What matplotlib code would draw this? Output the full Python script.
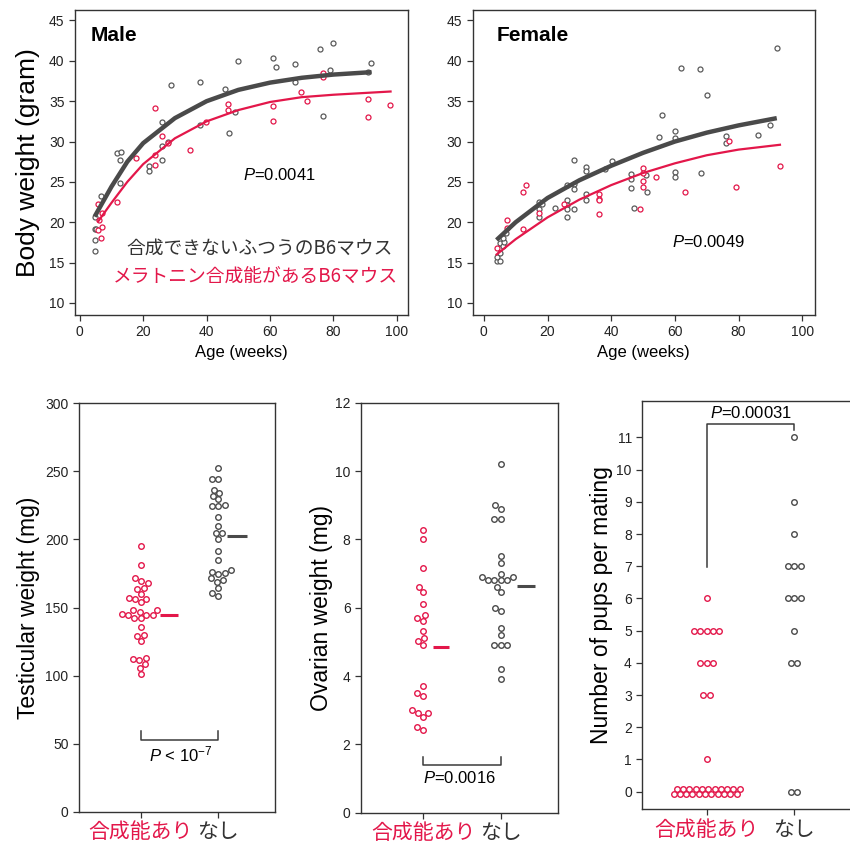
import numpy as np
import matplotlib
matplotlib.use('Agg')
import matplotlib.pyplot as plt

plt.rcParams['font.family'] = ['Liberation Sans', 'Noto Sans CJK JP']
plt.rcParams['mathtext.fontset'] = 'custom'
plt.rcParams['mathtext.rm'] = 'Liberation Sans'
plt.rcParams['mathtext.it'] = 'Liberation Sans:italic'

RED = '#e3174a'
GRAY = '#5a5a5a'
DARK = '#4a4a4a'
FRAME = '#333333'
JP = ['Noto Sans CJK JP']

# ---- body weight, male ----
male_ctrl_age = [4.7, 4.7, 4.7, 4.7, 5.0, 6.8, 11.8, 12.9, 12.8, 12.8, 21.7, 21.7,
                 25.8, 25.8, 25.8, 27.7, 28.9, 37.9, 37.9, 45.8, 47.0, 48.8, 49.9,
                 60.8, 61.9, 67.9, 67.9, 75.9, 76.8, 78.9, 79.8, 90.9, 91.8]
male_ctrl_wt = [20.6, 19.1, 17.8, 16.4, 19.2, 23.3, 28.6, 28.7, 27.7, 24.8, 27.0, 26.3,
                32.4, 29.4, 27.7, 29.9, 37.0, 37.4, 32.0, 36.5, 31.0, 33.7, 40.0,
                40.3, 39.2, 39.6, 37.4, 41.5, 33.2, 38.9, 42.2, 38.6, 39.7]
male_mel_age = [5.8, 6.1, 5.8, 7.0, 7.0, 6.8, 11.9, 17.6, 23.8, 23.8, 23.8, 25.8, 27.8,
                34.9, 39.8, 46.8, 46.8, 60.8, 60.8, 69.7, 71.7, 76.8, 76.8, 90.9,
                90.9, 97.8]
male_mel_wt = [22.2, 20.3, 19.0, 21.1, 19.4, 18.1, 22.5, 28.0, 34.1, 28.3, 27.1, 30.7,
               29.8, 29.0, 32.4, 34.6, 33.9, 34.4, 32.5, 36.1, 35.0, 38.5, 38.0, 35.3,
               33.1, 34.5]
male_ctrl_fit_age = [4.7, 10, 15, 20, 30, 40, 50, 60, 70, 80, 92]
male_ctrl_fit_wt = [20.7, 24.4, 27.5, 29.8, 32.9, 35.0, 36.4, 37.3, 37.9, 38.3, 38.6]
male_mel_fit_age = [5.8, 10, 15, 20, 30, 40, 50, 60, 70, 80, 98]
male_mel_fit_wt = [20.1, 22.4, 25.0, 27.2, 30.4, 32.5, 33.9, 34.9, 35.5, 35.8, 36.2]

# ---- body weight, female ----
female_ctrl_age = [4.2, 4.2, 5.2, 5.2, 5.2, 5.2, 5.9, 6.4, 6.0, 7.1, 17.2, 17.2, 17.2,
                   18.2, 22.2, 26.2, 26.2, 26.2, 26.2, 26.2, 28.3, 28.3, 28.3, 28.3,
                   32.1, 32.1, 32.1, 32.1, 38.1, 40.2, 46.1, 46.1, 46.1, 47.1, 51.0,
                   51.1, 55.1, 56.0, 60.1, 60.1, 60.1, 60.1, 62.0, 68.0, 68.1, 70.1,
                   76.0, 76.0, 86.0, 90.0, 92.0]
female_ctrl_wt = [15.2, 15.7, 15.2, 16.2, 16.8, 17.4, 17.0, 17.6, 18.1, 18.7, 22.5, 21.6,
                  20.6, 22.3, 21.8, 24.6, 22.7, 22.1, 21.6, 20.6, 27.7, 24.7, 24.1,
                  21.6, 26.8, 26.3, 23.5, 22.8, 26.6, 27.6, 26.0, 25.4, 24.2, 21.8,
                  25.8, 23.8, 30.6, 33.3, 31.3, 30.4, 26.2, 25.6, 39.1, 39.0, 26.1,
                  35.8, 30.7, 29.8, 30.8, 32.1, 41.6]
female_mel_age = [4.2, 7.2, 7.2, 12.3, 13.3, 12.3, 17.2, 25.1, 36.1, 36.1, 36.1, 36.1,
                  49.1, 50.1, 50.1, 50.1, 50.1, 54.1, 63.1, 77.1, 79.1, 93.0]
female_mel_wt = [16.8, 20.3, 19.3, 23.7, 24.6, 19.1, 21.1, 22.2, 23.5, 22.9, 22.7, 21.0,
                 21.6, 26.7, 26.1, 25.1, 24.4, 25.6, 23.8, 30.1, 24.4, 27.0]
female_ctrl_fit_age = [4, 10, 20, 30, 40, 50, 60, 70, 80, 92]
female_ctrl_fit_wt = [17.8, 20.0, 23.0, 25.2, 27.0, 28.6, 30.0, 31.1, 32.0, 32.9]
female_mel_fit_age = [4, 10, 20, 30, 40, 50, 60, 70, 80, 93]
female_mel_fit_wt = [16.0, 17.9, 20.6, 22.8, 24.6, 26.1, 27.3, 28.3, 29.0, 29.6]

# ---- organ weights and litter size ----
group_labels = ['合成能あり', 'なし']
testis_mel = [195.4, 181.5, 171.9, 167.8, 169.2, 163.9, 164.3, 160.2, 156.5, 156.5,
              157.0, 154.1, 145.2, 146.7, 148.2, 148.4, 144.7, 144.3, 144.3, 142.0,
              142.0, 135.7, 129.1, 129.6, 125.4, 111.2, 111.9, 113.2, 108.5, 105.6,
              100.9]
testis_ctrl = [252.5, 244.2, 244.2, 236.6, 234.4, 229.7, 231.9, 224.6, 224.6, 225.3,
               216.3, 209.6, 204.5, 204.5, 200.1, 191.5, 185.2, 177.6, 175.6, 176.3,
               171.4, 174.6, 168.7, 170.0, 164.1, 160.4, 158.5]
testis_means = [144.5, 202.3]
ovary_mel = [8.27, 8.01, 7.17, 6.47, 6.60, 6.11, 5.79, 5.69, 5.61, 5.31, 5.10, 5.02,
             4.91, 3.72, 3.42, 3.50, 3.00, 2.93, 2.93, 2.81, 2.42, 2.50]
ovary_ctrl = [10.2, 9.0, 8.9, 8.6, 8.6, 7.5, 7.3, 7.0, 6.9, 6.9, 6.8, 6.8, 6.8, 6.8,
              6.6, 6.45, 6.0, 5.9, 5.4, 5.2, 4.9, 4.9, 4.9, 4.2, 3.9]
ovary_means = [4.86, 6.65]
pups_mel = [6, 5, 5, 5, 5, 5, 4, 4, 4, 3, 3, 1] + [0] * 22
pups_ctrl = [11, 9, 8, 7, 7, 7, 6, 6, 6, 5, 4, 4, 0, 0]


def style_axes(ax):
    for s in ax.spines.values():
        s.set_color(FRAME)
        s.set_linewidth(1.0)
    ax.tick_params(direction='out', length=4, width=0.9, color=FRAME,
                   labelsize=10, labelcolor='#222222', top=False, right=False)


def swarm_x(ax, x0, values, d):
    # simple beeswarm in pixel space
    pts = ax.transData.transform(np.column_stack([np.full(len(values), x0), values]))
    ys = pts[:, 1]
    xc = pts[0, 0]
    xs = np.zeros(len(values))
    placed = []
    for i in np.argsort(ys):
        y = ys[i]
        cands = [0.0]
        for px, py in placed:
            dy = y - py
            if abs(dy) < d:
                dx = np.sqrt(d * d - dy * dy)
                cands += [px + dx, px - dx]
        for c in sorted(cands, key=lambda c: (abs(c), c)):
            if all((c - px) ** 2 + (y - py) ** 2 >= d * d - 1e-6 for px, py in placed):
                xs[i] = c
                break
        placed.append((xs[i], y))
    inv = ax.transData.inverted()
    return inv.transform(np.column_stack([xc + xs, ys]))[:, 0]


def rows_xy(ax, x0, values, d, max_row=12):
    # identical counts laid out as centred rows, long rows split in two
    out = []
    for v in sorted(set(values)):
        n = values.count(v)
        cx, cy = ax.transData.transform((x0, v))
        if n <= max_row:
            rows = [(n, 0.0, 0.0)]
        else:
            rows = [(n // 2, 0.45 * d, 0.25 * d), (n - n // 2, -0.45 * d, -0.25 * d)]
        for k, dy, sx in rows:
            for j in range(k):
                out.append((cx + sx + (j - (k - 1) / 2) * d, cy + dy))
    return ax.transData.inverted().transform(np.array(out))


def growth_panel(ax, ctrl, mel, ctrl_fit, mel_fit, title, title_x, ptext, pxy):
    ax.plot(ctrl[0], ctrl[1], 'o', ms=3.6, mfc='white', mec=GRAY, mew=0.9, zorder=2)
    ax.plot(mel[0], mel[1], 'o', ms=3.6, mfc='white', mec=RED, mew=0.9, zorder=2)
    ax.plot(ctrl_fit[0], ctrl_fit[1], color=DARK, lw=3.2, zorder=3,
            solid_capstyle='butt')
    ax.plot(mel_fit[0], mel_fit[1], color=RED, lw=1.6, zorder=3)
    ax.set_xlim(-1.5, 103.5)
    ax.set_ylim(8.5, 46.3)
    ax.set_xticks(range(0, 101, 20))
    ax.set_yticks(range(10, 46, 5))
    ax.set_xlabel('Age (weeks)', fontsize=12)
    ax.text(title_x, 0.918, title, transform=ax.transAxes, fontsize=15,
            fontweight='bold', va='center', ha='left')
    ax.text(pxy[0], pxy[1], ptext, transform=ax.transAxes, fontsize=12,
            ha='center', va='center')
    style_axes(ax)


def group_panel(ax, ylabel, xlim, ylim, yticks):
    ax.set_xlim(*xlim)
    ax.set_ylim(*ylim)
    ax.set_yticks(yticks)
    style_axes(ax)
    ax.set_xticks([0, 1])
    ax.set_xticklabels(group_labels, family=JP, fontsize=15)
    ax.tick_params(axis='x', pad=3, labelsize=15)
    for lab, c in zip(ax.get_xticklabels(), [RED, '#333333']):
        lab.set_color(c)
    ax.set_ylabel(ylabel, fontsize=16.5)


fig = plt.figure(figsize=(8.5, 8.48), dpi=100)

# top left: male
ax1 = fig.add_axes([0.0882, 0.6285, 0.3918, 0.3597])
growth_panel(ax1, (male_ctrl_age, male_ctrl_wt), (male_mel_age, male_mel_wt),
             (male_ctrl_fit_age, male_ctrl_fit_wt), (male_mel_fit_age, male_mel_fit_wt),
             'Male', 0.047, '$P$=0.0041', (0.613, 0.459))
ax1.set_ylabel('Body weight (gram)', fontsize=19)
ax1.yaxis.set_label_coords(-0.105, 0.5)
ax1.text(0.955, 0.220, '合成できないふつうのB6マウス', transform=ax1.transAxes,
         family=JP, fontsize=13.5, color='#333333', ha='right', va='center')
ax1.text(0.970, 0.125, 'メラトニン合成能があるB6マウス', transform=ax1.transAxes,
         family=JP, fontsize=13.5, color=RED, ha='right', va='center')

# top right: female
ax2 = fig.add_axes([0.5561, 0.6285, 0.4027, 0.3597])
growth_panel(ax2, (female_ctrl_age, female_ctrl_wt), (female_mel_age, female_mel_wt),
             (female_ctrl_fit_age, female_ctrl_fit_wt),
             (female_mel_fit_age, female_mel_fit_wt),
             'Female', 0.070, '$P$=0.0049', (0.690, 0.239))
ax2.set_xlim(-3.5, 104)

# bottom: testis
ax3 = fig.add_axes([0.0929, 0.0428, 0.2306, 0.4816])
group_panel(ax3, 'Testicular weight (mg)', (-0.795, 1.73), (0, 300), range(0, 301, 50))
ax3.yaxis.set_label_coords(-0.199, 0.5)

# bottom: ovary
ax4 = fig.add_axes([0.4247, 0.0416, 0.2321, 0.4835])
group_panel(ax4, 'Ovarian weight (mg)', (-0.805, 1.744), (0, 12), range(0, 13, 2))
ax4.yaxis.set_label_coords(-0.142, 0.5)

# bottom: pups
ax5 = fig.add_axes([0.7556, 0.046, 0.2467, 0.4811])
group_panel(ax5, 'Number of pups per mating', (-0.735, 1.659), (-0.54, 12.13),
            range(0, 12))
ax5.yaxis.set_label_coords(-0.14, 0.5)

for ax, mel, ctrl in [(ax3, testis_mel, testis_ctrl), (ax4, ovary_mel, ovary_ctrl)]:
    for x0, vals, col in [(0, mel, RED), (1, ctrl, DARK)]:
        ax.plot(swarm_x(ax, x0, vals, 6.5), vals, 'o', ms=4.0, mfc='white',
                mec=col, mew=1.0, clip_on=False, zorder=3)

for x0, vals, col in [(0, pups_mel, RED), (1, pups_ctrl, DARK)]:
    pts = rows_xy(ax5, x0, vals, 6.3)
    ax5.plot(pts[:, 0], pts[:, 1], 'o', ms=4.0, mfc='white', mec=col, mew=1.0,
             clip_on=False, zorder=3)

# mean bars
ax3.plot([0.25, 0.48], [testis_means[0]] * 2, color=RED, lw=2.2, solid_capstyle='butt')
ax3.plot([1.11, 1.37], [testis_means[1]] * 2, color=DARK, lw=2.2, solid_capstyle='butt')
ax4.plot([0.13, 0.33], [ovary_means[0]] * 2, color=RED, lw=2.2, solid_capstyle='butt')
ax4.plot([1.21, 1.44], [ovary_means[1]] * 2, color=DARK, lw=2.2, solid_capstyle='butt')

# significance brackets
br = dict(color='#3a3a3a', lw=1.1)
ax3.plot([0, 0, 1, 1], [59.5, 52.5, 52.5, 59.5], **br)
ax3.text(0.51, 41.7, '$P$ < 10$^{-7}$', fontsize=12, ha='center', va='center')
ax4.plot([0, 0, 1, 1], [1.64, 1.40, 1.40, 1.64], **br)
ax4.text(0.47, 1.02, '$P$=0.0016', fontsize=12, ha='center', va='center')
ax5.plot([0, 0, 1, 1], [6.99, 11.41, 11.41, 11.23], **br)
ax5.text(0.51, 11.75, '$P$=0.00031', fontsize=12, ha='center', va='center')

fig.savefig('out.png', dpi=100)
